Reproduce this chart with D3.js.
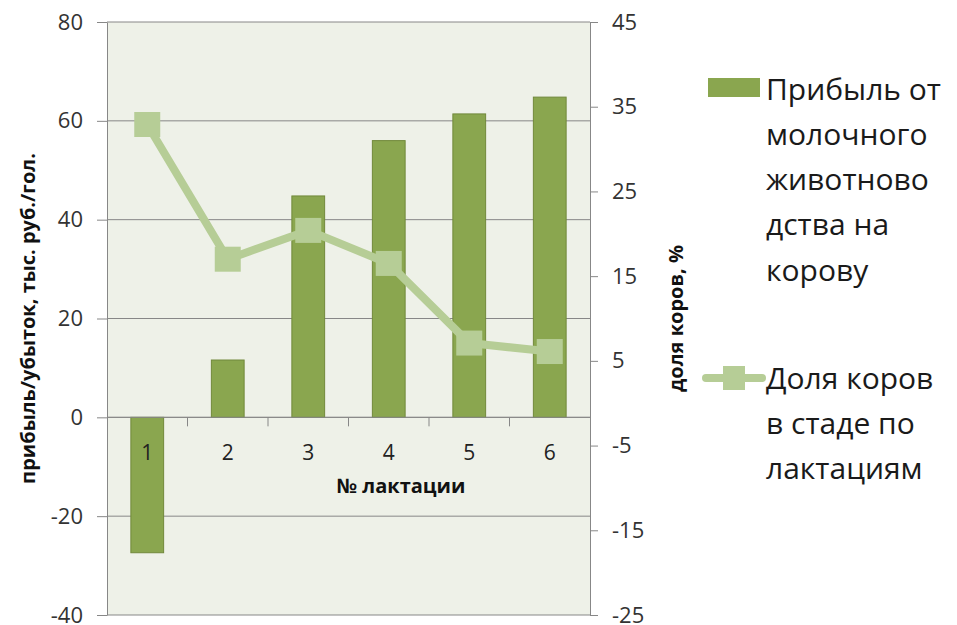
<!DOCTYPE html>
<html>
<head>
<meta charset="utf-8">
<script src="https://cdn.jsdelivr.net/npm/d3@7"></script>
<style>
  body { margin: 0; background: #fff; }
  svg { display: block; }
  .tick text { font-family: "Open Sans", sans-serif; fill: #333; }
</style>
</head>
<body>
<svg id="chart" width="957" height="625"></svg>
<script>
// data
var lactations = ["1", "2", "3", "4", "5", "6"];
var profit = [-27.4, 11.6, 44.8, 56.0, 61.4, 64.8];     // тыс. руб./гол., left axis
var cowShare = [32.9, 17.0, 20.4, 16.5, 7.1, 6.1];       // %, right axis
var leftTicks = [-40, -20, 0, 20, 40, 60, 80];
var rightTicks = [-25, -15, -5, 5, 15, 25, 35, 45];

var barName = ["Прибыль от", "молочного", "животново", "дства на", "корову"];
var lineName = ["Доля коров", "в стаде по", "лактациям"];

var svg = d3.select("#chart");

// plot area (note: "top" is taken by window.top, so use other names)
var pLeft = 107, pRight = 590, pTop = 22, pBottom = 615;
var gridCol = "#878787";
var barCol = "#8aa64f", barEdge = "#71893b";
var lineCol = "#b6cd96";
var font = "Open Sans, sans-serif";

var x = d3.scaleBand().domain(lactations).range([pLeft, pRight]);
var yL = d3.scaleLinear().domain([-40, 80]).range([pBottom, pTop]);
var yR = d3.scaleLinear().domain([-25, 45]).range([pBottom, pTop]);

// plain hyphen minus like in Excel
var fmt = function(d) { return String(d); };

svg.append("rect")
    .attr("x", pLeft).attr("y", pTop)
    .attr("width", pRight - pLeft).attr("height", pBottom - pTop)
    .attr("fill", "#eef1e8");

// horizontal grid lines
svg.append("g").selectAll("line")
    .data(leftTicks)
    .enter().append("line")
    .attr("x1", pLeft).attr("x2", pRight)
    .attr("y1", function(d) { return yL(d); })
    .attr("y2", function(d) { return yL(d); })
    .attr("stroke", gridCol).attr("stroke-width", 1);

// left axis
var axL = svg.append("g")
    .attr("transform", "translate(" + pLeft + ",0)")
    .call(d3.axisLeft(yL).tickValues(leftTicks).tickFormat(fmt)
        .tickSize(10).tickSizeOuter(0).tickPadding(14));
axL.select(".domain").attr("stroke", gridCol);
axL.selectAll(".tick line").attr("stroke", gridCol);
axL.selectAll(".tick text").style("font-size", "22px");

// right axis
var axR = svg.append("g")
    .attr("transform", "translate(" + pRight + ",0)")
    .call(d3.axisRight(yR).tickValues(rightTicks).tickFormat(fmt)
        .tickSize(8).tickSizeOuter(0).tickPadding(14));
axR.select(".domain").attr("stroke", gridCol);
axR.selectAll(".tick line").attr("stroke", gridCol);
axR.selectAll(".tick text").style("font-size", "22px");

// bars
var barW = x.bandwidth() * 0.407;
svg.append("g").selectAll("rect")
    .data(profit)
    .enter().append("rect")
    .attr("x", function(d, i) { return x(lactations[i]) + (x.bandwidth() - barW) / 2; })
    .attr("y", function(d) { return yL(Math.max(0, d)); })
    .attr("width", barW)
    .attr("height", function(d) { return Math.abs(yL(d) - yL(0)); })
    .attr("fill", barCol)
    .attr("stroke", barEdge).attr("stroke-width", 1);

// category axis at zero
var axX = svg.append("g")
    .attr("transform", "translate(0," + yL(0) + ")");
axX.append("line")
    .attr("x1", pLeft).attr("x2", pRight)
    .attr("stroke", gridCol);
axX.selectAll(".sep")
    .data(lactations.slice(1))
    .enter().append("line")
    .attr("x1", function(d) { return x(d); })
    .attr("x2", function(d) { return x(d); })
    .attr("y1", 0).attr("y2", 9)
    .attr("stroke", gridCol);
axX.selectAll(".lab")
    .data(lactations)
    .enter().append("text")
    .attr("x", function(d) { return x(d) + x.bandwidth() / 2; })
    .attr("y", 35)
    .attr("dy", "0.35em")
    .attr("text-anchor", "middle")
    .style("font-family", font)
    .style("font-size", "21px")
    .attr("fill", "#222")
    .text(function(d) { return d; });

// line series
var line = d3.line()
    .x(function(d, i) { return x(lactations[i]) + x.bandwidth() / 2; })
    .y(function(d) { return yR(d); });
svg.append("path")
    .datum(cowShare)
    .attr("d", line)
    .attr("fill", "none")
    .attr("stroke", lineCol).attr("stroke-width", 8)
    .attr("stroke-linejoin", "round");
svg.append("g").selectAll("rect")
    .data(cowShare)
    .enter().append("rect")
    .attr("x", function(d, i) { return x(lactations[i]) + x.bandwidth() / 2 - 13; })
    .attr("y", function(d) { return yR(d) - 12.5; })
    .attr("width", 26).attr("height", 25)
    .attr("fill", lineCol);

// axis titles
svg.append("text")
    .attr("transform", "translate(28," + (pTop + pBottom) / 2 + ") rotate(-90)")
    .attr("dy", "0.35em")
    .attr("text-anchor", "middle")
    .style("font-family", font)
    .style("font-size", "20px").style("font-weight", "bold")
    .attr("fill", "#111")
    .text("прибыль/убыток, тыс. руб./гол.");
svg.append("text")
    .attr("transform", "translate(676," + (pTop + pBottom) / 2 + ") rotate(-90)")
    .attr("dy", "0.35em")
    .attr("text-anchor", "middle")
    .style("font-family", font)
    .style("font-size", "20px").style("font-weight", "bold")
    .attr("fill", "#111")
    .text("доля коров, %");
svg.append("text")
    .attr("x", 401).attr("y", 486)
    .attr("dy", "0.35em")
    .attr("text-anchor", "middle")
    .style("font-family", font)
    .style("font-size", "20px").style("font-weight", "bold")
    .attr("fill", "#111")
    .text("№ лактации");

// legend
var leg = svg.append("g")
    .style("font-family", font)
    .style("font-size", "30px")
    .attr("fill", "#1a1a1a");
leg.append("rect")
    .attr("x", 708).attr("y", 78).attr("width", 52).attr("height", 19)
    .attr("fill", barCol);
leg.selectAll(".bt")
    .data(barName)
    .enter().append("text")
    .attr("x", 766)
    .attr("y", function(d, i) { return 89 + i * 45.3; })
    .attr("dy", "0.35em")
    .text(function(d) { return d; });
leg.append("line")
    .attr("x1", 706).attr("x2", 762).attr("y1", 378).attr("y2", 378)
    .attr("stroke", lineCol).attr("stroke-width", 8).attr("stroke-linecap", "round");
leg.append("rect")
    .attr("x", 723).attr("y", 366).attr("width", 22).attr("height", 24)
    .attr("fill", lineCol);
leg.selectAll(".lt")
    .data(lineName)
    .enter().append("text")
    .attr("x", 766)
    .attr("y", function(d, i) { return 378 + i * 45.3; })
    .attr("dy", "0.35em")
    .text(function(d) { return d; });
</script>
</body>
</html>
